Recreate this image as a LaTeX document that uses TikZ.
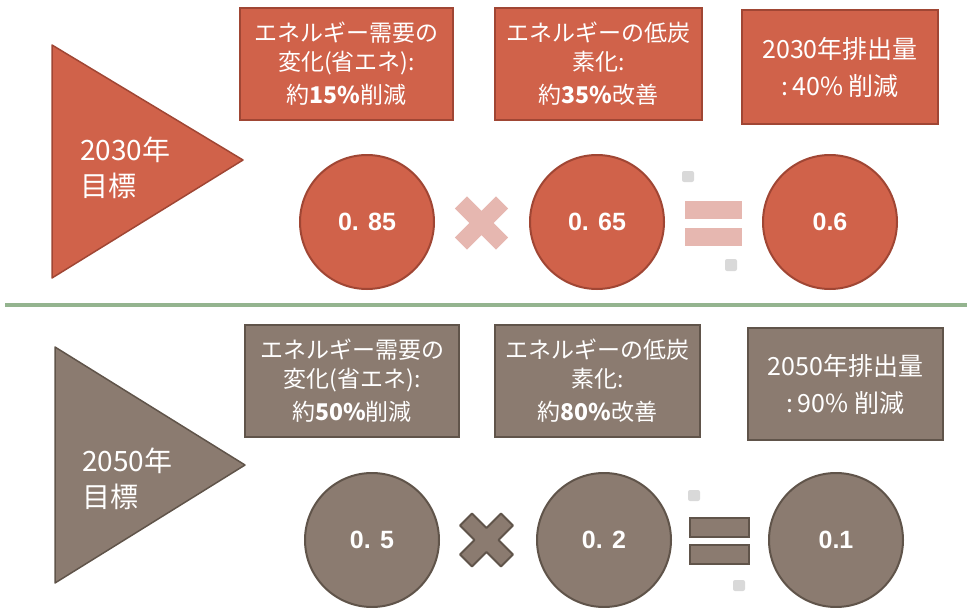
\documentclass[tikz,border=0pt]{standalone}
\usepackage{fontspec}
\setmainfont{Noto Sans CJK JP}
\newfontfamily\numfont{Liberation Sans}
\definecolor{topfill}{RGB}{208,98,74}
\definecolor{topedge}{RGB}{160,70,52}
\definecolor{botfill}{RGB}{139,123,112}
\definecolor{botedge}{RGB}{96,84,74}
\definecolor{pinkop}{RGB}{230,183,176}
\definecolor{dotgray}{RGB}{217,217,217}
\definecolor{sepgreen}{RGB}{148,180,143}
\tikzset{
  boxbase/.style={line width=2.5pt, text=white, align=center, inner sep=0pt,
    font=\fontsize{23}{29}\selectfont},
  topbox/.style={boxbase, draw=topedge, fill=topfill},
  botbox/.style={boxbase, draw=botedge, fill=botfill},
  numcirc/.style={circle, line width=2pt, minimum size=134pt, inner sep=0pt, text=white,
    font=\numfont\bfseries\fontsize{25}{28}\selectfont},
  topcirc/.style={numcirc, draw=topedge, fill=topfill},
  botcirc/.style={numcirc, draw=botedge, fill=botfill},
  tritext/.style={text=white, align=left, anchor=west, inner sep=0pt,
    font=\fontsize{28}{36}\selectfont},
  graydot/.style={fill=dotgray, rounded corners=2pt},
}
\newcommand{\crossshape}[3]{% center x, center y, style
  \begin{scope}[shift={(#1,#2)}, rotate=45]
    \path[#3] (-8.5,-29) -- (8.5,-29) -- (8.5,-8.5) -- (29,-8.5) -- (29,8.5) -- (8.5,8.5)
      -- (8.5,29) -- (-8.5,29) -- (-8.5,8.5) -- (-29,8.5) -- (-29,-8.5) -- (-8.5,-8.5) -- cycle;
  \end{scope}}
\begin{document}
\begin{tikzpicture}[x=1pt,y=-1pt]
\useasboundingbox (0,0) rectangle (967,608);

% ---------- 2030 ----------
\draw[topedge, fill=topfill, line width=1.5pt, line join=round] (52,45) -- (243,160) -- (52,278) -- cycle;
\node[tritext] (t1) at (80,168) {2030年\\目標};

\node[topbox, minimum width=213pt, minimum height=112pt] (a1) at (346.5,64)
  {エネルギー需要の\\変化(省エネ):\\[4pt]約{\bfseries 15\%}削減};
\node[topbox, minimum width=207pt, minimum height=112pt] (a2) at (598.5,64)
  {エネルギーの低炭\\素化:\\[4pt]約{\bfseries 35\%}改善};
\node[topbox, minimum width=196pt, minimum height=114pt, font=\fontsize{25}{37}\selectfont] (a3) at (840,67)
  {2030年排出量\\:\,40\% 削減};

\node[topcirc] (c1) at (367,222) {0. 85};
\node[topcirc] (c2) at (597,222) {0. 65};
\node[topcirc] (c3) at (830,222) {0.6};

\crossshape{481.5}{223}{fill=pinkop}
\node[fill=pinkop, minimum width=57pt, minimum height=18pt, inner sep=0pt] (e1a) at (713.5,210) {};
\node[fill=pinkop, minimum width=57pt, minimum height=18pt, inner sep=0pt] (e1b) at (713.5,237) {};
\path[graydot] (682,171) rectangle (694,182);
\path[graydot] (725,259) rectangle (737,271);

% ---------- separator ----------
\fill[sepgreen] (5,303) rectangle (967,307);

% ---------- 2050 ----------
\draw[botedge, fill=botfill, line width=1.5pt, line join=round] (55,347) -- (245,465) -- (55,583) -- cycle;
\node[tritext] (t2) at (82,479) {2050年\\目標};

\node[botbox, minimum width=214pt, minimum height=112pt] (b1) at (352,381)
  {エネルギー需要の\\変化(省エネ):\\[4pt]約{\bfseries 50\%}削減};
\node[botbox, minimum width=205pt, minimum height=112pt] (b2) at (597.5,381)
  {エネルギーの低炭\\素化:\\[4pt]約{\bfseries 80\%}改善};
\node[botbox, minimum width=195pt, minimum height=112pt, font=\fontsize{25}{37}\selectfont] (b3) at (845.5,384)
  {2050年排出量\\:\,90\% 削減};

\node[botcirc] (d1) at (372,540) {0. 5};
\node[botcirc] (d2) at (604,540) {0. 2};
\node[botcirc] (d3) at (836,540) {0.1};

\crossshape{486.5}{540}{fill=botfill, draw=botedge, line width=2pt, line join=round}
\node[fill=botfill, draw=botedge, line width=2pt, minimum width=59pt, minimum height=19pt, inner sep=0pt] (e2a) at (719.5,527) {};
\node[fill=botfill, draw=botedge, line width=2pt, minimum width=59pt, minimum height=19pt, inner sep=0pt] (e2b) at (719.5,554) {};
\path[graydot] (688,490) rectangle (700,501);
\path[graydot] (733,580) rectangle (745,591);
\end{tikzpicture}
\end{document}
